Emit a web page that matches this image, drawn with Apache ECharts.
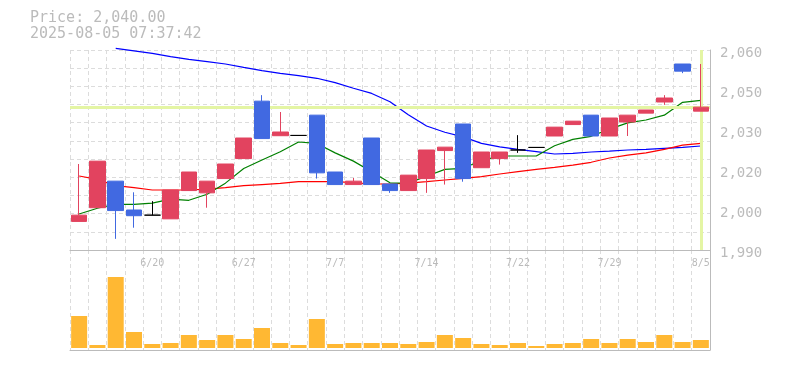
<!DOCTYPE html>
<html><head><meta charset="utf-8">
<script src="https://cdn.jsdelivr.net/npm/echarts@6/dist/echarts.min.js"></script>
<style>html,body{margin:0;padding:0;background:#fff}#c{width:785px;height:370px}</style>
</head><body><div id="c"></div>
<script>
const dates = ['6/16','6/17','6/18','6/19','6/20','6/23','6/24','6/25','6/26','6/27',
  '6/30','7/1','7/2','7/3','7/7','7/8','7/9','7/10','7/11','7/14',
  '7/15','7/16','7/17','7/18','7/22','7/23','7/24','7/25','7/28','7/29',
  '7/30','7/31','8/1','8/4','8/5'];
const dateLabels = ['6/20','6/27','7/7','7/14','7/22','7/29','8/5'];
const opens  = [2000.0,2004.8,2014.1,2004.0,2002.2,2000.9,2010.8,2010.0,2015.0,2022.0,
  2042.1,2030.0,2030.1,2037.2,2017.3,2012.9,2029.2,2013.1,2010.8,2015.0,
  2024.8,2034.1,2018.8,2022.0,2025.0,2025.9,2029.9,2033.9,2037.2,2029.9,
  2034.8,2037.9,2041.8,2055.1,2038.6];
const closes = [2002.2,2021.1,2003.8,2002.0,2002.2,2011.0,2017.3,2014.1,2020.1,2029.2,
  2029.0,2031.3,2030.1,2017.0,2012.9,2014.1,2012.9,2010.8,2016.2,2025.0,
  2026.0,2015.0,2024.3,2024.3,2025.0,2025.9,2033.0,2035.1,2029.9,2036.2,
  2037.2,2039.0,2043.2,2052.6,2040.0];
const lows   = [2000.0,2004.8,1993.9,1997.8,2002.2,2000.9,2010.8,2004.8,2015.0,2022.0,
  2029.0,2030.0,2030.1,2015.0,2012.9,2012.9,2012.9,2010.0,2010.8,2010.0,
  2012.9,2013.9,2018.8,2019.9,2024.0,2025.9,2029.9,2033.9,2029.9,2029.9,
  2029.9,2037.9,2040.8,2051.9,2038.6];
const highs  = [2020.1,2021.1,2014.1,2010.2,2007.1,2011.0,2017.3,2014.1,2020.1,2029.2,
  2044.2,2038.3,2030.1,2037.2,2017.3,2015.2,2029.2,2013.1,2016.2,2025.0,
  2026.0,2034.1,2024.3,2024.3,2030.2,2025.9,2033.0,2035.1,2037.2,2036.2,
  2037.2,2039.0,2044.2,2055.1,2055.1];
const maShort = [2002.6,2004.6,2006.0,2006.0,2006.4,2007.8,2007.4,2009.5,2013.4,2018.5,
  2021.5,2024.4,2027.8,2027.3,2024.0,2021.1,2017.4,2013.5,2013.4,2015.8,
  2018.2,2018.6,2021.3,2022.9,2022.9,2022.9,2026.5,2028.7,2029.8,2032.3,
  2034.5,2035.5,2037.2,2041.7,2042.4];
const maMid = [2015.9,2014.7,2012.5,2011.8,2011.0,2011.0,2011.0,2011.3,2011.8,2012.5,
  2012.9,2013.3,2013.9,2013.9,2013.9,2013.6,2013.1,2013.1,2013.4,2013.9,
  2014.5,2015.1,2015.7,2016.6,2017.4,2018.2,2018.9,2019.7,2020.7,2022.2,
  2023.2,2024.0,2025.2,2026.7,2027.3];
const maLong = [null,null,2060.6,2059.7,2058.8,2057.7,2056.7,2055.9,2055.1,2053.9,
  2052.8,2051.8,2051.0,2050.1,2048.6,2046.6,2044.8,2041.9,2037.3,2033.4,
  2031.2,2029.6,2027.3,2026.1,2025.2,2024.4,2023.6,2023.8,2024.3,2024.6,
  2025.0,2025.2,2025.6,2025.9,2026.4];
const volumes = [3200,300,7100,1600,400,500,1300,800,1300,900,
  2000,500,300,2900,400,500,500,500,400,600,
  1300,1000,400,300,500,200,400,500,900,500,
  900,600,1300,600,800];
const priceLabels = ['1,990','2,000','2,020','2,030','2,050','2,060'];
const priceMin = 1990, priceMax = 2060, priceStep = 14;
const lastPrice = 2040;
const headerLines = ['Price: 2,040.00', '2025-08-05 07:37:42'];

const candleData = dates.map((d, i) => [opens[i], closes[i], lows[i], highs[i]]);
const gridLine = { show: true, lineStyle: { color: '#dcdcdc', type: [4, 3], width: 1 } };
const axisGray = '#bbbbbb';
const mono = '"DejaVu Sans Mono", "Liberation Mono", monospace';

const chart = echarts.init(document.getElementById('c'), null, { renderer: 'canvas' });
chart.setOption({
  animation: false,
  backgroundColor: '#ffffff',
  graphic: [
    { type: 'text', left: 30, top: 11, style: { text: headerLines[0], font: '15px ' + mono, fill: '#bbbbbb' } },
    { type: 'text', left: 30, top: 27, style: { text: headerLines[1], font: '15px ' + mono, fill: '#bbbbbb' } }
  ],
  grid: [
    { left: 70, right: 75, top: 50, height: 200 },
    { left: 70, right: 75, top: 250, height: 100 }
  ],
  xAxis: [
    { type: 'category', gridIndex: 0, data: dates, boundaryGap: true,
      axisLine: { onZero: false, lineStyle: { color: axisGray, width: 1 } },
      axisTick: { show: false },
      axisLabel: { interval: (i, v) => dateLabels.includes(v), color: '#bbbbbb', fontFamily: mono, fontSize: 10, margin: 8 },
      splitLine: Object.assign({ interval: 0 }, gridLine) },
    { type: 'category', gridIndex: 1, data: dates, boundaryGap: true,
      axisLine: { onZero: false, lineStyle: { color: axisGray, width: 1 } },
      axisTick: { show: false }, axisLabel: { show: false },
      splitLine: Object.assign({ interval: 0 }, gridLine) }
  ],
  yAxis: [
    { type: 'value', gridIndex: 0, position: 'right', min: priceMin, max: priceMax, interval: priceStep,
      axisLine: { show: true, lineStyle: { color: axisGray, width: 1 } },
      axisTick: { show: false }, splitLine: { show: false },
      axisLabel: { color: '#bbbbbb', fontFamily: mono, fontSize: 14, margin: 10,
        formatter: v => '{p|' + priceLabels[Math.round((v - priceMin) / priceStep)] + '}',
        rich: { p: { color: '#bbbbbb', fontFamily: mono, fontSize: 14, padding: [7, 0, 0, 0] } } } },
    { type: 'value', gridIndex: 0, position: 'left', min: 0, max: 11, interval: 1,
      axisLine: { show: false }, axisTick: { show: false }, axisLabel: { show: false },
      splitLine: gridLine },
    { type: 'value', gridIndex: 1, position: 'right', min: -200, max: 9800,
      axisLine: { show: true, onZero: false, lineStyle: { color: axisGray, width: 1 } },
      axisTick: { show: false }, axisLabel: { show: false }, splitLine: { show: false } }
  ],
  series: [
    { name: 'cross', type: 'line', xAxisIndex: 0, yAxisIndex: 0, data: dates.map(() => null), z: 1,
      markLine: { silent: true, symbol: ['none', 'none'], label: { show: false },
        lineStyle: { color: '#e4f5a4', width: 3, type: 'solid' },
        data: [{ yAxis: lastPrice }, { xAxis: dates[dates.length - 1] }] } },
    { name: 'MA long', type: 'line', xAxisIndex: 0, yAxisIndex: 0, data: maLong, symbol: 'none', clip: false, z: 2,
      lineStyle: { color: '#0000ff', width: 1.2 } },
    { name: 'MA mid', type: 'line', xAxisIndex: 0, yAxisIndex: 0, data: maMid, symbol: 'none', z: 2,
      lineStyle: { color: '#ff0000', width: 1.2 } },
    { name: 'MA short', type: 'line', xAxisIndex: 0, yAxisIndex: 0, data: maShort, symbol: 'none', z: 2,
      lineStyle: { color: '#008000', width: 1.2 } },
    { name: 'price', type: 'candlestick', xAxisIndex: 0, yAxisIndex: 0, data: candleData, barWidth: 16, z: 5,
      itemStyle: { color: '#e2435f', color0: '#4169e1', borderColor: '#e2435f', borderColor0: '#4169e1',
        borderColorDoji: '#000000', borderWidth: 1 } },
    { name: 'volume', type: 'bar', xAxisIndex: 1, yAxisIndex: 2, data: volumes, barWidth: 16,
      itemStyle: { color: '#ffb833' } }
  ]
});
</script></body></html>
